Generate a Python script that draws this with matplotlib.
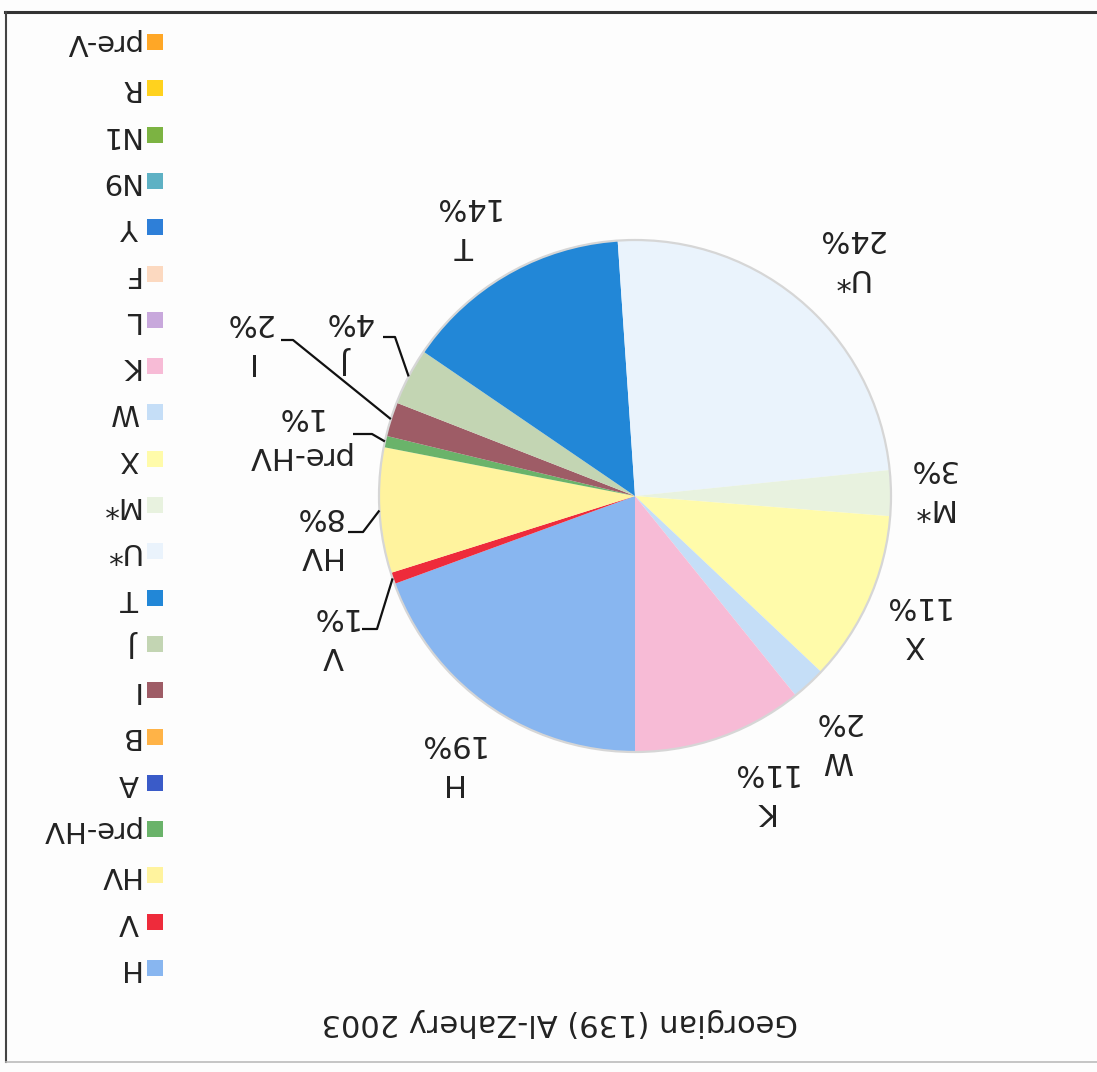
import matplotlib
matplotlib.use("Agg")
import matplotlib.pyplot as plt
from matplotlib.patches import Rectangle, Circle
import numpy as np

# Haplogroup counts (n = 139), in drawing order
haplogroups = ["H", "V", "HV", "pre-HV", "A", "B", "I", "J", "T", "U*", "M*",
               "X", "W", "K", "L", "F", "Y", "N9", "N1", "R", "pre-V"]
counts = [27, 1, 11, 1, 0, 0, 3, 5, 20, 34, 4, 15, 3, 15, 0, 0, 0, 0, 0, 0, 0]
colors = ["#88B6F0", "#EE2B3B", "#FFF39E", "#6AB36A", "#3A5BC8", "#FFB347",
          "#9E5C66", "#C3D5B3", "#2287D7", "#EAF3FC", "#E8F2DF", "#FFFBAA",
          "#C5DEF7", "#F7BBD6", "#C8A8DC", "#FCD9C0", "#2E7FD8", "#5EB1C4",
          "#7CB342", "#FFD21E", "#FFA726"]
title = "Georgian (139) Al-Zahery 2003"

# Page layout in pixels (page is printed upside down)
W_PX, H_PX = 1097, 1072
CENTER = (635, 496)
RADIUS = 256
TXT = "#222222"
FS = 22

# label centre, and leader elbow/end points (None = no leader)
label_layout = {
    "H": ((450, 763), None),
    "V": ((333, 636), ((377, 629), (362, 629))),
    "HV": ((318, 536), ((363, 532), (348, 532))),
    "pre-HV": ((298, 436), ((372, 434), (353, 434))),
    "I": ((248, 342), ((293, 340), (281, 340))),
    "J": ((348, 341), ((395, 337), (383, 337))),
    "T": ((465, 226), None),
    "U*": ((850, 258), None),
    "M*": ((931, 488), None),
    "X": ((915, 625), None),
    "W": ((837, 741), None),
    "K": ((763, 792), None),
}

fig = plt.figure(figsize=(W_PX / 100, H_PX / 100), dpi=100)
fig.patch.set_facecolor("#FDFDFD")
ax = fig.add_axes([0, 0, 1, 1])

total = sum(counts)
wedges, _ = ax.pie(counts, colors=colors, center=CENTER, radius=RADIUS,
                   startangle=90, counterclock=True,
                   wedgeprops=dict(linewidth=0))
ax.add_patch(Circle(CENTER, RADIUS, fill=False, edgecolor="#D6D6D6", lw=1.6))
ax.set_xlim(0, W_PX)
ax.set_ylim(H_PX, 0)
ax.set_aspect("auto")
ax.axis("off")

# data labels with leader lines
for name, cnt, w in zip(haplogroups, counts, wedges):
    if cnt == 0:
        continue
    (lx, ly), leader = label_layout[name]
    pct = round(100 * cnt / total)
    ax.text(lx, ly, f"{name}\n{pct}%", rotation=180, ha="center", va="center",
            fontsize=FS, color=TXT, linespacing=1.45, family="DejaVu Sans")
    if leader is not None:
        mid = np.deg2rad((w.theta1 + w.theta2) / 2)
        sx = CENTER[0] + RADIUS * np.cos(mid)
        sy = CENTER[1] + RADIUS * np.sin(mid)
        (ex, ey), (fx, fy) = leader
        ax.plot([sx, ex, fx], [sy, ey, fy], color="#111111", lw=1.6,
                solid_capstyle="butt")

# legend column
LEG_X, LEG_Y0, LEG_DY, SQ = 155, 968, -46.3, 16
for i, (name, col) in enumerate(zip(haplogroups, colors)):
    y = LEG_Y0 + i * LEG_DY
    ax.add_patch(Rectangle((LEG_X - SQ / 2, y - SQ / 2), SQ, SQ,
                           facecolor=col, edgecolor="none"))
    ax.text(LEG_X - 16, y, name, rotation=180, ha="right", va="center",
            fontsize=21, color=TXT, family="DejaVu Sans")

# title
ax.text(560, 1022, title, rotation=180, ha="center", va="center",
        fontsize=FS, color=TXT, family="DejaVu Sans")

# chart frame
ax.plot([5, W_PX], [12, 12], color="#333333", lw=2.2)
ax.plot([6, 6], [12, 1062], color="#444444", lw=1.5)
ax.plot([6, W_PX], [1062, 1062], color="#BBBBBB", lw=1.2)

fig.savefig("out.png", dpi=100, facecolor=fig.get_facecolor())
